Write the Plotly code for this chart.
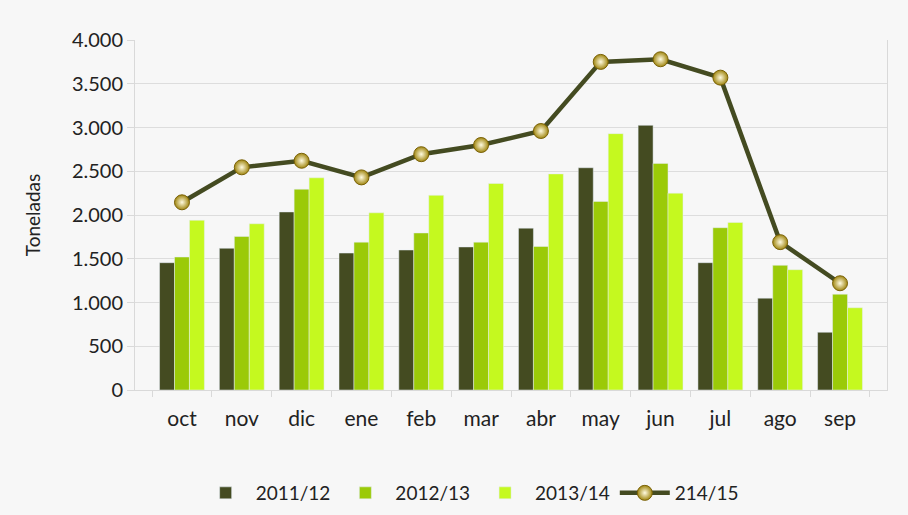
import plotly.graph_objects as go

months = ["oct", "nov", "dic", "ene", "feb", "mar", "abr", "may", "jun", "jul", "ago", "sep"]
s2011_12 = [1455, 1620, 2035, 1565, 1600, 1635, 1850, 2540, 3025, 1455, 1050, 660]
s2012_13 = [1520, 1755, 2295, 1690, 1795, 1690, 1640, 2155, 2590, 1855, 1425, 1095]
s2013_14 = [1940, 1900, 2425, 2025, 2225, 2360, 2470, 2930, 2250, 1915, 1375, 940]
s2014_15 = [2145, 2545, 2620, 2430, 2695, 2800, 2960, 3750, 3780, 3570, 1690, 1220]

font_family = "Lato, 'DejaVu Sans', sans-serif"

fig = go.Figure()
fig.add_trace(go.Bar(x=months, y=s2011_12, name="2011/12", marker_color="#444B21"))
fig.add_trace(go.Bar(x=months, y=s2012_13, name="2012/13", marker_color="#9BCA08"))
fig.add_trace(go.Bar(x=months, y=s2013_14, name="2013/14", marker_color="#C5F91F"))
fig.add_trace(go.Scatter(
    x=months, y=s2014_15, name="214/15", mode="lines+markers",
    line=dict(color="#444B21", width=4.5),
    marker=dict(size=15, color="#A08610",
                gradient=dict(type="radial", color="#FFFBE0"),
                line=dict(color="#7A6208", width=1)),
))

fig.update_layout(
    width=908, height=515,
    margin=dict(l=135, r=21, t=40, b=125, autoexpand=False),
    paper_bgcolor="#F7F7F7", plot_bgcolor="#F7F7F7",
    barmode="group", bargap=0.25, bargroupgap=0,
    separators=",.",
    font=dict(family=font_family, color="#222222", size=20),
    legend=dict(orientation="h", x=0.445, xanchor="center", y=-0.24, yanchor="top",
                font=dict(size=19), bgcolor="rgba(0,0,0,0)", traceorder="normal",
                itemwidth=50),
    showlegend=True,
)
fig.update_xaxes(
    type="category", showline=True, linecolor="#D9D9D9", linewidth=1,
    ticks="outside", tickson="boundaries", ticklen=6, tickcolor="#D9D9D9",
    tickfont=dict(size=21), showgrid=False, ticklabelstandoff=10, automargin=False,
)
fig.update_yaxes(
    range=[0, 4000], dtick=500, tickformat=",.0f",
    showline=True, linecolor="#D9D9D9", linewidth=1, mirror=True,
    ticks="outside", ticklen=7, tickcolor="#D9D9D9",
    gridcolor="#DDDDDD", gridwidth=1,
    tickfont=dict(size=20), automargin=False,
    title=dict(text="Toneladas", font=dict(size=19), standoff=26),
    zeroline=False,
)

fig.write_html("out.html")
